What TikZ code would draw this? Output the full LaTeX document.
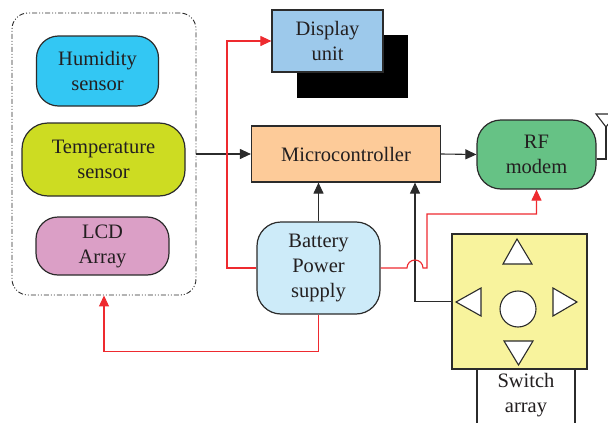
\documentclass[tikz,border=0pt]{standalone}
\usepackage{fontspec}
\setmainfont{Liberation Serif}
\usetikzlibrary{arrows.meta}
\definecolor{txt}{HTML}{231F20}
\definecolor{humc}{HTML}{33C7F3}
\definecolor{tempc}{HTML}{CDDC22}
\definecolor{lcdc}{HTML}{DB9FC6}
\definecolor{dispc}{HTML}{9DC9EB}
\definecolor{mcc}{HTML}{FDCB99}
\definecolor{rfc}{HTML}{66C285}
\definecolor{batc}{HTML}{CDEBF9}
\definecolor{swc}{HTML}{F8F39D}
\definecolor{redl}{HTML}{EE2A2F}
\definecolor{linec}{HTML}{2B2B2B}
\begin{document}
\begin{tikzpicture}[x=1pt,y=1pt,
  box/.style={draw=linec,line width=1.2pt,align=center,text=txt,inner sep=0pt,
    font=\fontsize{20.5}{25}\selectfont},
  rbox/.style={box,rounded corners=#1},
  conn/.style={draw=linec,line width=1.1pt,-{Triangle[length=11pt,width=10pt]}},
  rconn/.style={draw=redl,line width=1.1pt,-{Triangle[length=11pt,width=10pt]}},
  sym/.style={draw=linec,line width=1.1pt,fill=white}]
\useasboundingbox (0,0) rectangle (608,-423);
% group
\node[draw=linec,line width=0.9pt,rounded corners=16pt,
  dash pattern=on 5pt off 2pt on 1pt off 2pt on 1pt off 2pt,
  minimum width=184pt,minimum height=282pt] (grp) at (104,-154) {};
\node[rbox=22pt,fill=humc,minimum width=122pt,minimum height=70pt] (hum) at (97.5,-71) {Humidity\\sensor};
\node[rbox=26pt,fill=tempc,minimum width=163pt,minimum height=73pt] (temp) at (103.5,-159.5) {Temperature\\sensor};
\node[rbox=22pt,fill=lcdc,minimum width=133pt,minimum height=58pt] (lcd) at (102.5,-246) {LCD\\Array};
% display
\node[fill=black,minimum width=111pt,minimum height=63pt,inner sep=0pt] (dsh) at (352.5,-66) {};
\node[box,fill=dispc,minimum width=111pt,minimum height=62pt] (disp) at (327.5,-41) {Display\\unit};
% microcontroller
\node[box,fill=mcc,minimum width=189pt,minimum height=56pt] (mc) at (346,-154) {Microcontroller};
% RF modem
\node[rbox=24pt,fill=rfc,minimum width=119pt,minimum height=69pt] (rf) at (536.5,-154.5) {RF\\modem};
% battery
\node[rbox=24pt,fill=batc,minimum width=123pt,minimum height=92pt] (bat) at (318.5,-268) {Battery\\Power\\supply};
% switch array
\node[box,fill=swc,minimum width=135pt,minimum height=135pt] (sw) at (519.5,-301.5) {};
\node[box,fill=white,minimum width=98pt,minimum height=60pt,anchor=north] (swl) at (526,-369) {};
\node[text=txt,align=center,font=\fontsize{20.5}{25}\selectfont] (swt) at (526,-395) {Switch\\array};
\draw[sym] (517,-239) -- (532,-264) -- (503,-264) -- cycle;
\draw[sym] (504,-341) -- (533,-341) -- (518.5,-365) -- cycle;
\draw[sym] (456,-302) -- (481,-288) -- (481,-316) -- cycle;
\draw[sym] (577,-302) -- (553,-288) -- (553,-316) -- cycle;
\node[sym,circle,minimum size=36pt,inner sep=0pt] (btn) at (518,-309) {};
% antenna
\coordinate (ant) at (606,-127);
\draw[linec,line width=1.1pt] (rf.east |- 0,-159) -- (606,-159) -- (ant);
\draw[linec,line width=1.1pt] (ant) -- (596,-114) -- (616,-114) -- cycle;
% connectors
\coordinate (rl) at (227,0);
\coordinate (jx) at (415,0);
\draw[conn] (grp.east |- mc.west) -- (mc.west);
\draw[conn] (mc.east) -- (rf.west);
\draw[conn] (bat.north) -- (bat.north |- mc.south);
\draw[conn] (sw.west) -| (jx |- mc.south);
\draw[rconn] (bat.west) -- (bat.west -| rl) |- (disp.west);
\draw[rconn] (bat.east) -- (407,-268) arc[start angle=180,end angle=0,radius=8] -- (427,-268) -- (427,-214) -| (rf.south);
\draw[rconn] (bat.south) -- ++(0,-37) -| (grp.south);
\end{tikzpicture}
\end{document}
